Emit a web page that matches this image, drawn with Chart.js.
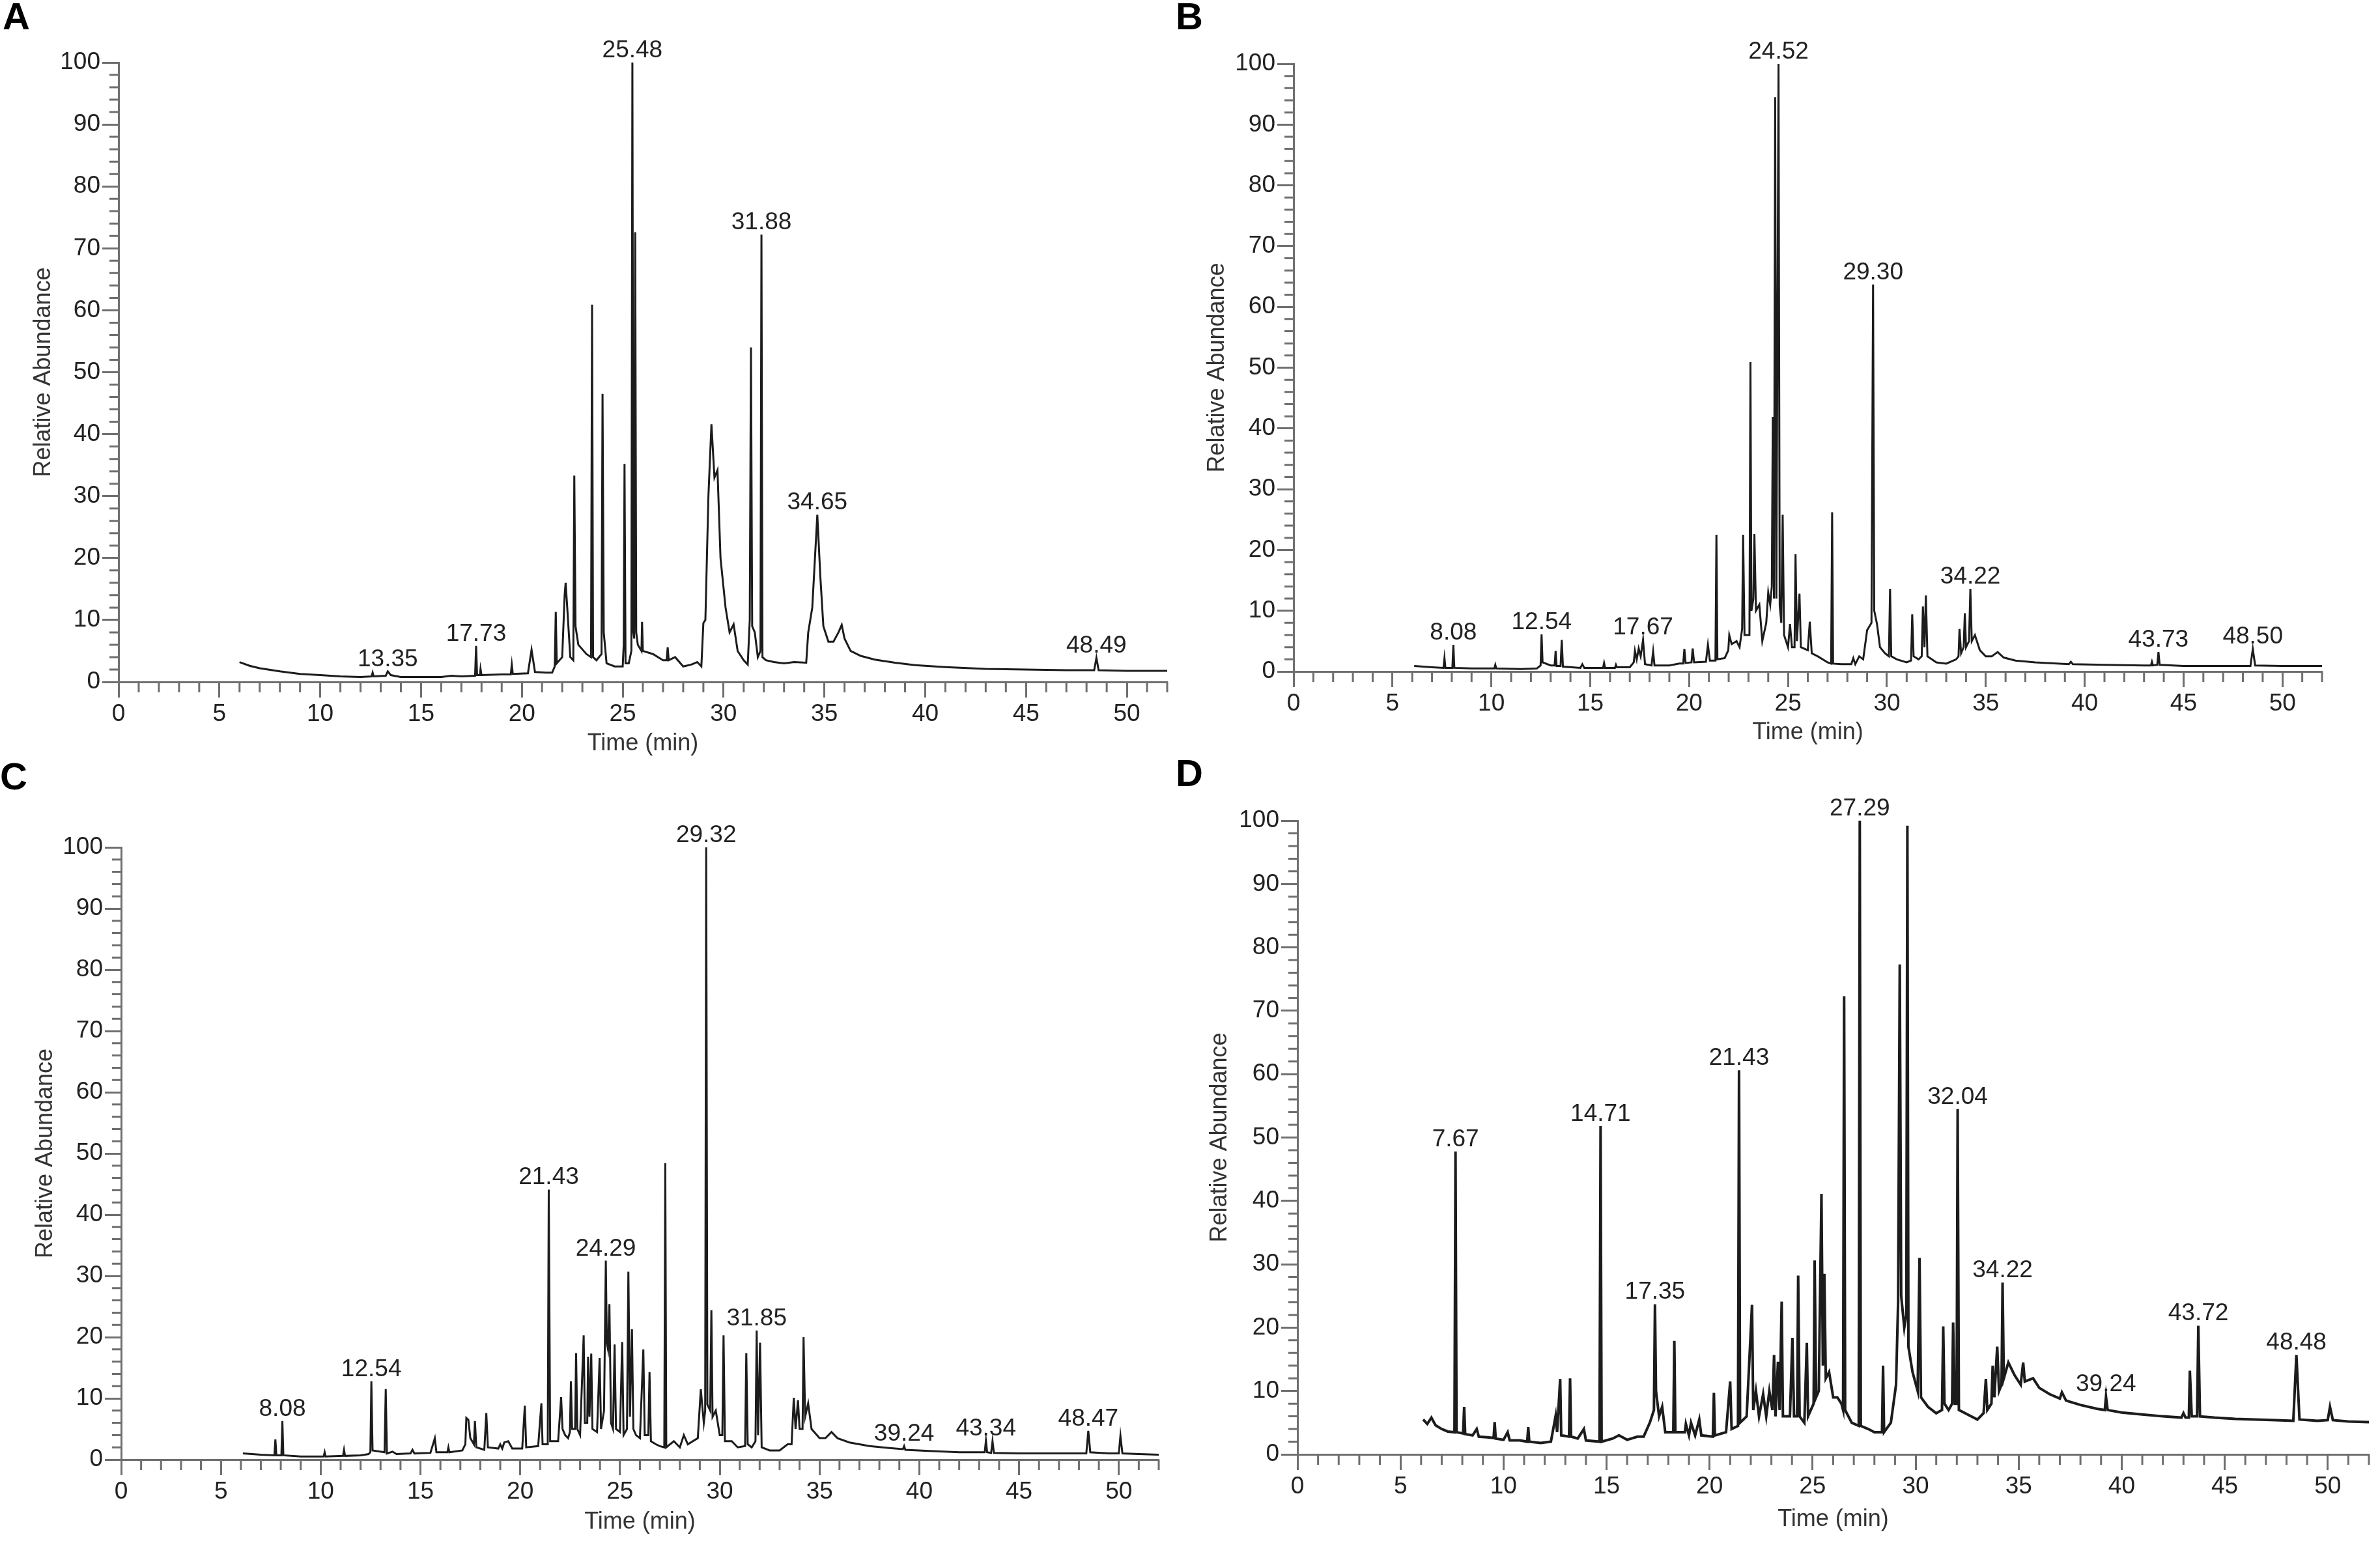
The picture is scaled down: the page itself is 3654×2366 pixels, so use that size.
<!DOCTYPE html>
<html>
<head>
<meta charset="utf-8">
<script src="https://cdn.jsdelivr.net/npm/chart.js@4.4.1/dist/chart.umd.min.js"></script>
<style>
  html, body { margin: 0; padding: 0; background: #fff; }
  body { width: 3654px; height: 2366px; position: relative; overflow: hidden; font-family: "Liberation Sans", Arial, sans-serif; }
  .panel { position: absolute; }
  .letter { position: absolute; font-weight: bold; font-size: 58px; line-height: 1; color: #000; }
</style>
</head>
<body>
<div class="letter" style="left:4px;top:-4px">A</div>
<div class="letter" style="left:1805px;top:-4px">B</div>
<div class="letter" style="left:0px;top:1163px">C</div>
<div class="letter" style="left:1805px;top:1158px">D</div>

<div class="panel" style="left:0px;top:0px"><canvas id="chartA" width="1815" height="1160"></canvas></div>
<div class="panel" style="left:1820px;top:0px"><canvas id="chartB" width="1834" height="1143"></canvas></div>
<div class="panel" style="left:0px;top:1160px"><canvas id="chartC" width="1815" height="1195"></canvas></div>
<div class="panel" style="left:1820px;top:1160px"><canvas id="chartD" width="1834" height="1191"></canvas></div>

<script>
// axis ticks
const timeTicks = [0, 5, 10, 15, 20, 25, 30, 35, 40, 45, 50];
const abundanceTicks = [0, 10, 20, 30, 40, 50, 60, 70, 80, 90, 100];

// chromatogram traces, [time (min), relative abundance]
const traceA = [
  [6.0,3.2],[6.5,2.6],[7,2.2],[8,1.7],[9,1.3],[10,1.1],[11,0.9],[12,0.8],[12.55,0.9],[12.6,1.5],[12.65,0.9],
  [13.25,1.0],[13.35,1.7],[13.5,1.1],[14,0.8],[15,0.8],[16,0.8],[16.5,1.0],[17,0.9],[17.68,1.0],[17.73,5.8],
  [17.78,1.1],[17.92,1.1],[17.95,2.1],[18.0,1.1],[19,1.2],[19.45,1.2],[19.5,2.8],[19.55,1.3],[20.3,1.4],
  [20.48,5.2],[20.65,1.6],[21.2,1.5],[21.5,1.5],[21.63,2.5],[21.68,11.3],[21.73,3],[22.0,4],[22.12,14],
  [22.17,16],[22.25,12],[22.4,4],[22.55,3.5],[22.6,33.3],[22.66,9],[22.8,6],[23.2,4.5],[23.43,4],[23.48,60.9],
  [23.53,4],[23.7,3.5],[23.95,4.5],[24.0,46.5],[24.06,8],[24.2,3],[24.6,2.5],[25.0,2.5],[25.05,6],[25.09,35.2],
  [25.14,3],[25.3,3],[25.43,5],[25.48,100],[25.53,8],[25.57,7],[25.62,72.6],[25.67,8],[25.75,6],[25.93,5],
  [25.96,9.7],[26.0,5],[26.5,4.5],[27.0,3.5],[27.18,3.5],[27.23,5.6],[27.28,3.5],[27.6,4],[28,2.5],[28.4,2.8],
  [28.7,3.2],[28.9,2.5],[29.0,9.5],[29.1,10],[29.25,30],[29.4,41.6],[29.55,33],[29.7,34.2],[29.85,20],[30.1,12],
  [30.3,8],[30.5,9.3],[30.7,5],[31.0,3.5],[31.2,2.8],[31.3,10],[31.36,54],[31.42,9],[31.55,8],[31.7,4],
  [31.83,5],[31.88,72.2],[31.93,4],[32.1,3.5],[32.5,3.2],[33.0,3.0],[33.5,3.2],[34.1,3.1],[34.2,8],[34.4,12],
  [34.65,27],[34.8,17],[34.95,9],[35.2,6.5],[35.45,6.5],[35.7,8],[35.86,9.2],[36.0,7],[36.3,5],[36.8,4.2],
  [37.5,3.6],[38.5,3.1],[39.5,2.7],[41,2.4],[43,2.1],[45,2.0],[47,1.9],[48.38,1.9],[48.49,3.9],[48.6,1.9],
  [50,1.8],[52,1.8]
];
const peakTimesA = [13.35, 17.73, 25.48, 31.88, 34.65, 48.49];
const peakTopsA = [1.7, 5.8, 100, 72.2, 27.0, 3.9];

const traceB = [
  [6.1,0.9],[7,0.7],[7.58,0.6],[7.63,2.2],[7.68,0.6],[8.03,0.6],[8.08,4.4],[8.13,0.6],[9,0.5],[10.15,0.5],
  [10.2,1.1],[10.25,0.5],[11.5,0.4],[12.3,0.5],[12.49,1.0],[12.54,6.1],[12.59,1.5],[13.0,1.0],[13.2,1.0],
  [13.25,3.4],[13.3,0.9],[13.5,0.9],[13.56,5.2],[13.62,0.8],[14.5,0.6],[14.6,1.2],[14.7,0.6],[15.65,0.6],
  [15.7,1.4],[15.75,0.6],[16.25,0.6],[16.3,1.1],[16.35,0.7],[17.0,0.7],[17.2,1.5],[17.26,3.4],[17.35,2.0],
  [17.45,3.8],[17.55,2.5],[17.67,5.2],[17.77,1.2],[18.1,1.0],[18.18,3.3],[18.25,1.0],[19.0,1.0],[19.5,1.3],
  [19.7,1.3],[19.76,3.7],[19.82,1.4],[20.12,1.5],[20.18,3.8],[20.25,1.5],[20.85,1.6],[20.95,4.4],[21.05,1.8],
  [21.33,1.8],[21.38,22.5],[21.43,2.0],[21.8,2.2],[21.98,3.5],[22.03,6.0],[22.15,4.5],[22.4,5],[22.55,4],
  [22.68,7],[22.73,22.5],[22.8,6],[23.05,6],[23.1,50.9],[23.15,10],[23.25,12],[23.3,22.6],[23.38,10],
  [23.55,11],[23.7,5],[23.9,8],[24.0,13],[24.1,11],[24.18,14],[24.23,41.9],[24.29,12],[24.35,94.5],[24.41,12],
  [24.52,100],[24.58,10.8],[24.66,8],[24.73,25.8],[24.8,6],[25.0,4],[25.1,7.8],[25.2,4],[25.33,4],[25.38,19.3],
  [25.45,5],[25.58,12.8],[25.65,4],[26.0,3.5],[26.1,8.2],[26.2,3],[26.5,2.5],[27.0,1.5],[27.18,1.3],
  [27.23,26.2],[27.28,1.3],[27.7,1.2],[28.2,1.2],[28.3,2.2],[28.4,1.2],[28.6,2.5],[28.8,2],[29.0,6.8],
  [29.22,8],[29.30,63.7],[29.36,10],[29.5,7.8],[29.65,4],[29.9,3],[30.1,2.5],[30.16,13.6],[30.22,2.5],
  [30.5,2],[31.0,1.5],[31.22,1.8],[31.28,9.4],[31.35,2.5],[31.6,2],[31.76,2.5],[31.82,10.7],[31.9,4],
  [31.97,12.5],[32.05,2.5],[32.5,1.5],[33.0,1.3],[33.5,2.0],[33.62,2.5],[33.67,7],[33.75,3],[33.88,4],
  [33.94,9.6],[34.0,4],[34.15,5],[34.22,13.6],[34.29,5],[34.45,6],[34.7,3.5],[35.0,2.5],[35.3,2.5],[35.6,3.2],
  [35.9,2.3],[36.5,1.8],[37.5,1.5],[39.2,1.2],[39.3,1.6],[39.4,1.2],[41,1.1],[43.0,1.0],[43.35,1.0],
  [43.4,1.6],[43.45,1.0],[43.67,1.1],[43.73,3.2],[43.79,1.1],[45,0.9],[48.38,0.9],[48.50,3.7],[48.62,1.0],
  [50,0.9],[52,0.9]
];
const peakTimesB = [8.08, 12.54, 17.67, 24.52, 29.30, 34.22, 43.73, 48.50];
const peakTopsB = [4.4, 6.1, 5.2, 100, 63.7, 13.6, 3.2, 3.7];

const traceC = [
  [6.1,1.0],[7.0,0.8],[7.68,0.7],[7.73,3.3],[7.78,0.7],[8.03,0.7],[8.08,6.3],[8.13,0.7],[9,0.5],[10.15,0.5],
  [10.2,1.2],[10.25,0.5],[11.12,0.6],[11.17,1.6],[11.22,0.6],[12.0,0.7],[12.4,0.9],[12.49,1.2],[12.54,12.8],
  [12.6,1.5],[13.2,1.2],[13.26,11.5],[13.32,1.0],[13.6,1.3],[13.8,0.9],[14.5,1.0],[14.6,1.6],[14.7,1.0],
  [15.5,1.1],[15.72,3.5],[15.8,1.2],[16.35,1.2],[16.4,2.0],[16.45,1.2],[17.1,1.5],[17.25,2.5],[17.3,6.8],
  [17.4,6.5],[17.5,3.5],[17.68,2.5],[17.73,6.3],[17.8,2],[18.2,1.6],[18.3,7.6],[18.38,2],[18.9,1.8],[19.0,2.5],
  [19.1,1.8],[19.2,2.8],[19.4,3],[19.6,1.8],[20.1,1.8],[20.23,8.8],[20.3,2],[20.9,2.2],[21.06,9.2],[21.12,2.5],
  [21.38,2.5],[21.43,44.1],[21.5,3],[21.9,3],[22.05,10.2],[22.12,5],[22.25,4],[22.4,3.5],[22.49,4.5],
  [22.54,12.8],[22.6,5],[22.75,5],[22.8,17.4],[22.86,5],[23.0,4],[23.18,20.3],[23.24,6],[23.36,6],[23.4,16.8],
  [23.47,7],[23.56,17.3],[23.62,5],[23.85,4.5],[23.98,16.6],[24.05,5],[24.2,8],[24.29,32.5],[24.34,19],
  [24.4,18],[24.47,25.4],[24.55,6],[24.65,5],[24.73,18.8],[24.8,5],[25.0,4.5],[25.11,19.2],[25.18,4],
  [25.35,5],[25.42,30.7],[25.5,7],[25.6,21.3],[25.67,5],[25.8,4],[26.0,3.5],[26.17,18],[26.24,4],[26.42,4],
  [26.48,14.3],[26.55,3],[26.8,2.5],[27.0,2.2],[27.22,2],[27.27,48.4],[27.32,2],[27.7,3],[28.0,2],[28.2,4],
  [28.4,2.5],[28.9,3.5],[29.05,11.5],[29.2,6],[29.27,8],[29.32,100],[29.38,9],[29.52,8],[29.58,24.4],
  [29.64,7],[29.8,8],[30.0,4],[30.13,4],[30.19,20.3],[30.26,3],[30.6,3],[30.9,2],[31.27,2.2],[31.33,17.4],
  [31.4,2.5],[31.6,2],[31.79,3],[31.85,21.1],[31.92,4],[32.02,19.1],[32.1,2],[32.5,1.5],[33.0,1.5],[33.4,2.5],
  [33.6,2.5],[33.71,10.1],[33.8,5],[33.92,9.7],[34.0,5],[34.15,5],[34.2,20],[34.28,7],[34.43,9.2],[34.6,5],
  [35.0,3.5],[35.3,3.5],[35.6,4.5],[35.9,3.5],[36.5,2.8],[37.5,2.2],[38.5,1.9],[39.18,1.7],[39.24,2.2],
  [39.3,1.6],[40.5,1.4],[42,1.2],[43.28,1.2],[43.34,3.1],[43.4,1.2],[43.6,1.1],[43.67,3.0],[43.74,1.1],
  [45,1.0],[47,1.0],[48.37,1.0],[48.47,4.7],[48.57,1.2],[49.5,1.0],[50.0,1.0],[50.08,3.9],[50.18,1.0],
  [51,0.9],[52,0.8]
];
const peakTimesC = [8.08, 12.54, 21.43, 24.29, 29.32, 31.85, 39.24, 43.34, 48.47];
const peakTopsC = [6.3, 12.8, 44.1, 32.5, 100, 21.1, 2.2, 3.1, 4.7];

const traceD = [
  [6.1,5.5],[6.3,4.8],[6.5,5.8],[6.7,4.6],[7.0,4.0],[7.3,3.6],[7.62,3.5],[7.67,47.8],[7.72,3.5],[8.04,3.3],
  [8.09,7.5],[8.14,3.2],[8.5,3.0],[8.7,4.0],[8.8,2.8],[9.2,2.7],[9.52,2.6],[9.57,5.1],[9.62,2.5],[10.0,2.3],
  [10.2,3.5],[10.3,2.2],[10.8,2.2],[11.15,2.0],[11.2,4.3],[11.25,2.0],[11.8,1.8],[12.3,2.0],[12.53,6.1],
  [12.6,3.5],[12.75,11.9],[12.8,3.0],[13.18,2.8],[13.23,12],[13.28,2.8],[13.6,2.5],[13.9,4.0],[14.0,2.2],
  [14.66,2.0],[14.71,51.8],[14.76,2.0],[15.3,2.5],[15.6,3.0],[16.0,2.3],[16.5,2.8],[16.8,2.8],[17.1,5],
  [17.3,7],[17.35,23.7],[17.4,10],[17.55,6],[17.7,7.5],[17.85,3.5],[18.24,3.5],[18.29,17.9],[18.34,3.5],
  [18.8,3.5],[18.85,4.8],[19.0,3.0],[19.1,5.0],[19.3,3.0],[19.5,5.5],[19.6,3.0],[20.16,2.8],[20.21,9.7],
  [20.26,3.0],[20.8,3.5],[21.0,11.5],[21.07,4],[21.38,4.5],[21.43,60.6],[21.48,5],[21.8,6],[22.06,23.6],
  [22.12,7],[22.25,10],[22.4,6],[22.6,9.5],[22.75,6],[22.9,10],[23.05,7],[23.13,15.7],[23.2,6],[23.32,14.6],
  [23.4,7],[23.5,24.1],[23.56,6],[23.9,6],[24.02,18.4],[24.1,6],[24.25,6],[24.3,28.2],[24.37,6],[24.6,5],
  [24.72,17.6],[24.78,6],[25.05,8],[25.1,30.6],[25.17,9],[25.3,10],[25.43,41.1],[25.5,14],[25.57,28.5],
  [25.64,12],[25.8,13],[26.0,9],[26.2,9],[26.4,8],[26.48,7],[26.53,72.3],[26.58,7],[26.9,5],[27.24,4.5],
  [27.29,100],[27.34,4.5],[27.7,4],[28.0,3.5],[28.37,3.5],[28.42,14],[28.47,3.5],[28.8,5],[29.05,11],
  [29.15,24],[29.23,77.3],[29.3,25],[29.45,20],[29.55,22],[29.6,99.2],[29.65,17],[29.85,13],[30.1,10],
  [30.19,31],[30.26,9],[30.6,7.5],[31.0,6.5],[31.28,7],[31.34,20.2],[31.4,8],[31.6,7],[31.77,8],[31.82,20.8],
  [31.9,8],[31.99,8],[32.04,54.5],[32.1,7],[32.4,6.5],[33.0,5.5],[33.3,6.5],[33.41,11.9],[33.48,7],[33.68,8],
  [33.74,14],[33.82,9],[33.96,17],[34.05,10],[34.17,11],[34.22,27.1],[34.28,12],[34.5,14.5],[34.8,12.5],
  [35.1,11],[35.22,14.5],[35.3,11.5],[35.7,12],[36.0,10.5],[36.5,9.5],[37.0,8.8],[37.1,9.8],[37.3,8.5],
  [38.0,7.8],[38.8,7.2],[39.18,7],[39.24,9.1],[39.32,7],[40.0,6.6],[41,6.3],[42,6.0],[42.9,5.8],[43.0,6.5],
  [43.1,5.8],[43.26,5.8],[43.31,13.2],[43.4,6],[43.66,6],[43.72,20.3],[43.8,6],[44.5,5.8],[45.5,5.6],
  [46.5,5.5],[47.5,5.4],[48.33,5.3],[48.48,15.7],[48.63,5.5],[49.5,5.3],[50.0,5.4],[50.11,7.5],[50.25,5.4],
  [51,5.2],[52,5.1]
];
const peakTimesD = [7.67, 14.71, 17.35, 21.43, 27.29, 32.04, 34.22, 39.24, 43.72, 48.48];
const peakTopsD = [47.8, 51.8, 23.7, 60.6, 100, 54.5, 27.1, 9.1, 20.3, 15.7];

const axisGrey = '#6f6f6f';
const fontFamily = '"Liberation Sans", Arial, sans-serif';
Chart.defaults.font.family = fontFamily;

// unlabeled small ticks: every minute on time axis, every 2 % on abundance axis
const timeMinor = [];
for (let v = 1; v <= 52; v++) if (v % 5 !== 0) timeMinor.push(v);
const abundanceMinor = [];
for (let v = 2; v < 100; v += 2) if (v % 10 !== 0) abundanceMinor.push(v);

const minorTicks = {
    id: 'minorTicks',
    afterDraw(chart) {
        const {ctx, scales: {x, y}} = chart;
        ctx.save();
        ctx.strokeStyle = axisGrey;
        ctx.lineWidth = 3;
        ctx.beginPath();
        timeMinor.forEach(v => {
            const px = x.getPixelForValue(v);
            ctx.moveTo(px, x.top);
            ctx.lineTo(px, x.top + 16);
        });
        abundanceMinor.forEach(v => {
            const py = y.getPixelForValue(v);
            ctx.moveTo(y.right, py);
            ctx.lineTo(y.right - 14, py);
        });
        ctx.stroke();
        ctx.restore();
    }
};

const peakLabels = {
    id: 'peakLabels',
    afterDatasetsDraw(chart, args, opts) {
        const {ctx, scales: {x, y}} = chart;
        ctx.save();
        ctx.font = '37px ' + fontFamily;
        ctx.fillStyle = '#222';
        ctx.textAlign = 'center';
        ctx.textBaseline = 'alphabetic';
        opts.times.forEach((t, i) => {
            ctx.fillText(t.toFixed(2), x.getPixelForValue(t), y.getPixelForValue(opts.tops[i]) - 8);
        });
        ctx.restore();
    }
};

function makeChart(id, trace, times, tops, g) {
    const el = document.getElementById(id).getContext('2d');
    return new Chart(el, {
        type: 'line',
        data: {
            datasets: [{
                data: trace.map(([x, y]) => ({x, y})),
                borderColor: '#1c1c1c',
                borderWidth: g.lineWidth,
                pointRadius: 0,
                tension: 0,
                fill: false
            }]
        },
        options: {
            responsive: false,
            devicePixelRatio: 1,
            animation: false,
            layout: {padding: {top: g.padTop, right: g.padRight, left: 0, bottom: 0}},
            scales: {
                x: {
                    type: 'linear',
                    min: 0,
                    max: 52,
                    afterFit: s => { s.height = g.xHeight; },
                    afterBuildTicks: s => { s.ticks = timeTicks.map(v => ({value: v})); },
                    grid: {drawOnChartArea: false, drawTicks: true, tickLength: 24, tickWidth: 3, tickColor: axisGrey},
                    border: {display: true, color: axisGrey, width: 3},
                    ticks: {padding: 4, color: '#222', font: {size: 37}, maxRotation: 0, autoSkip: false},
                    title: {display: true, text: 'Time (min)', color: '#333', font: {size: 36, lineHeight: 1}, padding: {top: 0, bottom: 0}}
                },
                y: {
                    type: 'linear',
                    min: 0,
                    max: 100,
                    afterFit: s => { s.width = g.yWidth; },
                    afterBuildTicks: s => { s.ticks = abundanceTicks.map(v => ({value: v})); },
                    grid: {drawOnChartArea: false, drawTicks: true, tickLength: 25, tickWidth: 3, tickColor: axisGrey},
                    border: {display: true, color: axisGrey, width: 3},
                    ticks: {padding: 3, color: '#222', font: {size: 37}, autoSkip: false},
                    title: {display: true, text: 'Relative Abundance', color: '#333', font: {size: 36, lineHeight: 1}, padding: {top: g.yTitlePad, bottom: 0}}
                }
            },
            plugins: {
                legend: {display: false},
                tooltip: {enabled: false},
                peakLabels: {times, tops}
            }
        },
        plugins: [minorTicks, peakLabels]
    });
}

makeChart('chartA', traceA, peakTimesA, peakTopsA, {padTop: 96, padRight: 23, yWidth: 182, xHeight: 113, yTitlePad: 49, lineWidth: 3});
makeChart('chartB', traceB, peakTimesB, peakTopsB, {padTop: 98, padRight: 89, yWidth: 166, xHeight: 112, yTitlePad: 31, lineWidth: 3});
makeChart('chartC', traceC, peakTimesC, peakTopsC, {padTop: 141, padRight: 36, yWidth: 186, xHeight: 114, yTitlePad: 52, lineWidth: 3});
makeChart('chartD', traceD, peakTimesD, peakTopsD, {padTop: 100, padRight: 17, yWidth: 172, xHeight: 118, yTitlePad: 35, lineWidth: 4});
</script>
</body>
</html>
